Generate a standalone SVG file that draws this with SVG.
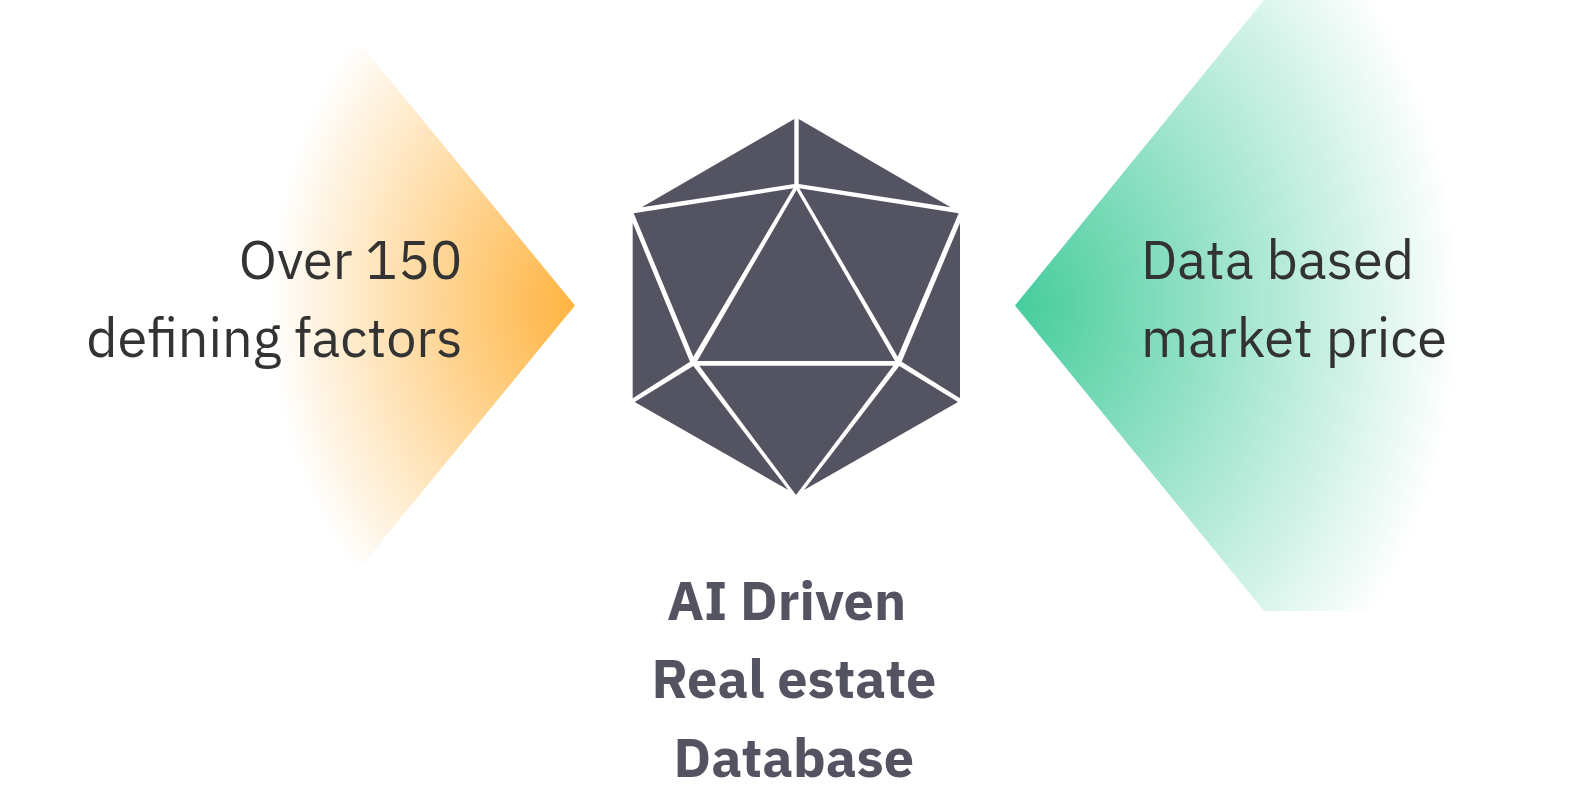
<svg xmlns="http://www.w3.org/2000/svg" width="1590" height="798" viewBox="0 0 1590 798">
<style>
.f{fill:#535362}
.t{font-family:"IBM Plex Sans","Inter","Noto Sans",sans-serif;font-size:54px;font-weight:400;fill:#333}
.b{font-family:"IBM Plex Sans","Inter","Noto Sans",sans-serif;font-size:54px;font-weight:700;fill:#535362}
</style>
<defs>
<radialGradient id="o" gradientUnits="userSpaceOnUse" cx="0" cy="0" r="1" gradientTransform="translate(575 305.500) scale(305 385)">
<stop offset="0" stop-color="#FFB33F"/><stop offset="1" stop-color="#FFB33F" stop-opacity="0"/>
</radialGradient>
<radialGradient id="g" gradientUnits="userSpaceOnUse" cx="0" cy="0" r="1" gradientTransform="translate(1015 305.500) scale(445 520)">
<stop offset="0" stop-color="#45CC9C"/><stop offset="1" stop-color="#45CC9C" stop-opacity="0"/>
</radialGradient>
</defs>
<rect width="1590" height="798" fill="#fff"/>
<g id="left-arrow"><polygon points="575,305.500 362,46 100,46 100,565 362,565" fill="url(#o)"/>
<text class="t" text-anchor="end" x="462.500" y="279">Over 150</text>
<text class="t" text-anchor="end" x="462.500" y="357">defining factors</text></g>
<g id="right-arrow"><polygon points="1015,305.500 1264,0 1500,0 1500,611 1264,611" fill="url(#g)"/>
<text class="t" x="1141" y="279">Data based</text>
<text class="t" x="1141" y="357">market price</text></g>
<g id="icosahedron" class="f">
<polygon points="794.3,119 794.3,184 641.7,207.3"/>
<polygon points="798.7,119 798.7,184 950.7,207.3"/>
<polygon points="633.7,213.3 793.3,188.3 693.3,356.7"/>
<polygon points="958.7,213.3 799.3,188.3 897.7,356.7"/>
<polygon points="796.5,190 697.3,361 895,361"/>
<polygon points="632.7,222.7 690,361.7 632.7,398.3"/>
<polygon points="960,222.7 901.7,361.7 960,398.3"/>
<polygon points="699.3,365.7 893.3,365.7 796,495"/>
<polygon points="634.7,402 693.3,366 788.3,490"/>
<polygon points="958,402 899.3,366 804,490"/>
</g>
<g id="title">
<text class="b" x="667" y="620">AI Driven</text>
<text class="b" x="651.500" y="698">Real estate</text>
<text class="b" x="673.500" y="776.500">Database</text>
</g>
</svg>
